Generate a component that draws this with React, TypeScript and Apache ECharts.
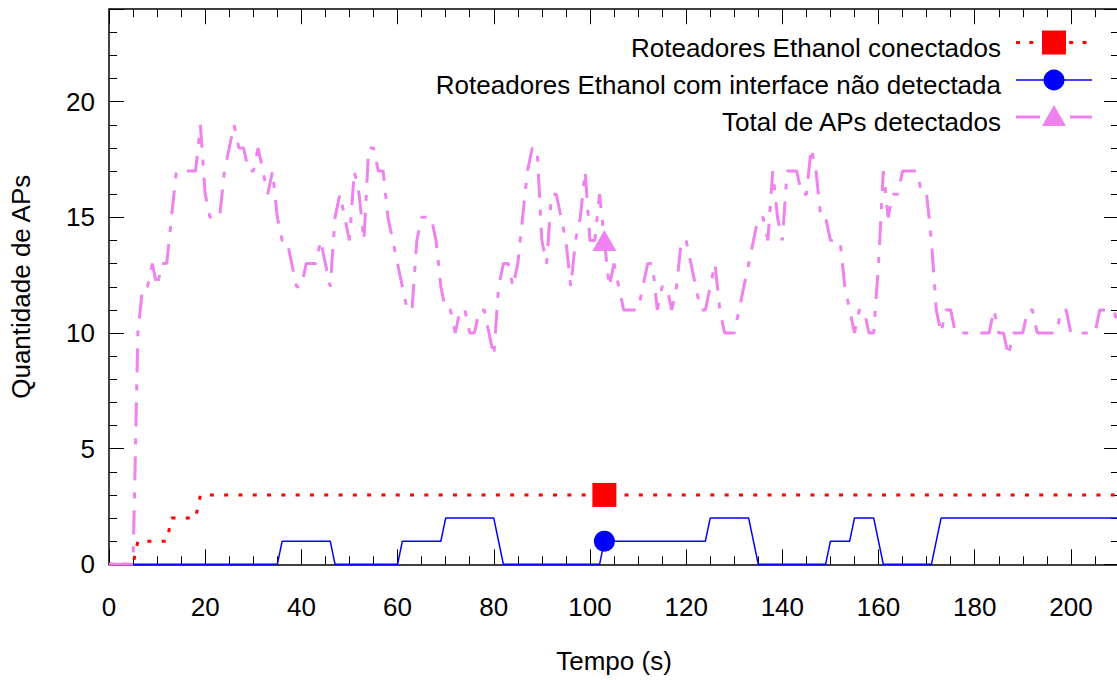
import React, { useEffect, useRef } from "react";
import * as echarts from "echarts";

// ---- axis ranges & ticks ----
const X_MIN = 0;
const X_MAX = 210;
const X_MAJOR = 20;
const X_MINOR = 5;
const Y_MIN = 0;
const Y_MAX = 24;
const Y_MAJOR = 5;
const Y_MINOR = 1;

const X_NAME = "Tempo (s)";
const Y_NAME = "Quantidade de APs";

const SERIES_NAMES = [
  "Roteadores Ethanol conectados",
  "Roteadores Ethanol com interface não detectada",
  "Total de APs detectados",
];
const SERIES_COLORS = ["#ff0000", "#0000ff", "#ee82ee"];

// time (s) at which gnuplot drew the single point marker of each series
const MARK_TIME = 103;

// ---- data ----
const connectedTime = [0, 5, 6, 12, 13, 18, 19, 103, 210];
const connectedValue = [0, 0, 1, 1, 2, 2, 3, 3, 3];

const undetectedTime = [
  0, 35, 36, 46, 47, 60, 61, 69, 70, 80, 82, 102, 103, 124, 125, 133, 135,
  149, 150, 154, 155, 159, 161, 171, 173, 210,
];
const undetectedValue = [
  0, 0, 1, 1, 0, 0, 1, 1, 2, 2, 0, 0, 1, 1, 2, 2, 0, 0, 1, 1, 2, 2, 0, 0, 2,
  2,
];

// one value per second, t = 0 .. 210
const totalValue = [
  0, 0, 0, 0, 0, 0, 10, 12, 12, 13,
  12, 13, 13, 15, 17, 17, 17, 17, 17, 19,
  16, 15, 15, 15, 17, 18, 19, 18, 18, 17,
  17, 18, 17, 16, 17, 15, 14, 14, 13, 12,
  12, 13, 13, 13, 14, 13, 12, 15, 16, 15,
  14, 17, 16, 14, 18, 18, 17, 17, 15, 14,
  13, 12, 11, 11, 14, 15, 15, 15, 14, 12,
  11, 11, 10, 11, 11, 10, 10, 11, 11, 10,
  9, 12, 13, 13, 12, 13, 15, 17, 18, 18,
  14, 13, 16, 16, 15, 14, 12, 14, 15, 17,
  14, 14, 16, 14, 12, 13, 12, 11, 11, 11,
  11, 12, 13, 13, 11, 12, 12, 11, 12, 14,
  14, 13, 12, 11, 11, 12, 13, 11, 10, 10,
  10, 11, 12, 13, 14, 15, 15, 14, 17, 15,
  14, 17, 17, 17, 16, 16, 18, 17, 15, 15,
  14, 14, 14, 12, 11, 10, 11, 11, 10, 10,
  13, 17, 15, 16, 16, 17, 17, 17, 17, 16,
  16, 14, 11, 10, 11, 11, 10, 10, 10, 10,
  10, 10, 10, 10, 11, 10, 10, 9, 10, 10,
  10, 11, 11, 10, 10, 10, 10, 10, 11, 11,
  10, 10, 10, 10, 10, 10, 11, 11, 11, 11,
  10,
];
const totalTime = totalValue.map((_, i) => i);

const FONT = '"Liberation Sans", Arial, Helvetica, sans-serif';
const FS = 26;

function buildData(
  times: number[],
  values: number[],
  symbol: string,
  size: number | number[]
) {
  return times.map((t, i) =>
    t === MARK_TIME
      ? { value: [t, values[i]], symbol, symbolSize: size }
      : [t, values[i]]
  );
}

function xAxisDef(position: string, interval: number, tickLen: number, main: boolean) {
  return {
    type: "value",
    position,
    min: X_MIN,
    max: X_MAX,
    interval,
    splitLine: { show: false },
    axisLine: { show: main, onZero: false, lineStyle: { color: "#000", width: 1.5 } },
    axisTick: { show: true, inside: true, length: tickLen, lineStyle: { color: "#000", width: 1 } },
    axisLabel: {
      show: main && position === "bottom",
      margin: 30,
      fontFamily: FONT,
      fontSize: FS,
      color: "#000",
      formatter: (v: number) => (v % X_MAJOR === 0 ? String(v) : ""),
    },
    name: main && position === "bottom" ? X_NAME : "",
    nameLocation: "middle",
    nameGap: 84,
    nameTextStyle: { fontFamily: FONT, fontSize: FS, color: "#000" },
  };
}

function yAxisDef(position: string, interval: number, tickLen: number, main: boolean) {
  return {
    type: "value",
    position,
    min: Y_MIN,
    max: Y_MAX,
    interval,
    splitLine: { show: false },
    axisLine: { show: main, onZero: false, lineStyle: { color: "#000", width: 1.5 } },
    axisTick: { show: true, inside: true, length: tickLen, lineStyle: { color: "#000", width: 1 } },
    axisLabel: {
      show: main && position === "left",
      margin: 14,
      fontFamily: FONT,
      fontSize: FS,
      color: "#000",
      formatter: (v: number) => (v % Y_MAJOR === 0 ? String(v) : ""),
    },
    name: main && position === "left" ? Y_NAME : "",
    nameLocation: "middle",
    nameRotate: 90,
    nameGap: 75,
    nameTextStyle: { fontFamily: FONT, fontSize: FS, color: "#000" },
  };
}

const LEGEND_X_TEXT = 1001;
const LEGEND_X1 = 1016;
const LEGEND_X2 = 1092;
const LEGEND_XM = 1054;
const LEGEND_ROW_Y = [42.5, 80, 117];
const LEGEND_TEXT_DY = 5;

const RED_DASH = [4, 10.3];
const VIOLET_DASH = [24, 12, 6, 12];

export default function App() {
  const ref = useRef<HTMLDivElement>(null);

  useEffect(() => {
    if (!ref.current) return;
    const chart = echarts.init(ref.current, undefined, { renderer: "svg" });

    const legendGraphics: any[] = [];
    SERIES_NAMES.forEach((name, i) => {
      const y = LEGEND_ROW_Y[i];
      legendGraphics.push({
        type: "text",
        x: LEGEND_X_TEXT,
        y: y + LEGEND_TEXT_DY,
        style: {
          text: name,
          font: `${FS}px ${FONT}`,
          fill: "#000",
          align: "right",
          verticalAlign: "middle",
          textAlign: "right",
          textVerticalAlign: "middle",
        },
      });
      legendGraphics.push({
        type: "line",
        shape: { x1: LEGEND_X1, y1: y, x2: LEGEND_X2, y2: y },
        style: {
          stroke: SERIES_COLORS[i],
          lineWidth: i === 1 ? 1.5 : 3,
          lineDash: i === 0 ? [4, 9.3] : i === 2 ? VIOLET_DASH : null,
        },
      });
    });
    legendGraphics.push({
      type: "rect",
      shape: { x: LEGEND_XM - 12, y: LEGEND_ROW_Y[0] - 12, width: 24, height: 24 },
      style: { fill: SERIES_COLORS[0] },
    });
    legendGraphics.push({
      type: "circle",
      shape: { cx: LEGEND_XM, cy: LEGEND_ROW_Y[1], r: 10.5 },
      style: { fill: SERIES_COLORS[1] },
    });
    legendGraphics.push({
      type: "polygon",
      shape: {
        points: [
          [LEGEND_XM, LEGEND_ROW_Y[2] - 12],
          [LEGEND_XM - 12, LEGEND_ROW_Y[2] + 9],
          [LEGEND_XM + 12, LEGEND_ROW_Y[2] + 9],
        ],
      },
      style: { fill: SERIES_COLORS[2] },
    });

    chart.setOption({
      animation: false,
      backgroundColor: "#fff",
      grid: { left: 107.5, top: 9.2, right: 2.8, bottom: 115.7, containLabel: false },
      xAxis: [
        xAxisDef("bottom", X_MAJOR, 15, true),
        xAxisDef("bottom", X_MINOR, 8, false),
        xAxisDef("top", X_MAJOR, 15, true),
        xAxisDef("top", X_MINOR, 8, false),
      ],
      yAxis: [
        yAxisDef("left", Y_MAJOR, 15, true),
        yAxisDef("left", Y_MINOR, 8, false),
        yAxisDef("right", Y_MAJOR, 15, true),
        yAxisDef("right", Y_MINOR, 8, false),
      ],
      series: [
        {
          name: SERIES_NAMES[0],
          type: "line",
          xAxisIndex: 0,
          yAxisIndex: 0,
          data: buildData(connectedTime, connectedValue, "rect", 24),
          symbol: "none",
          showSymbol: true,
          itemStyle: { color: SERIES_COLORS[0] },
          lineStyle: { color: SERIES_COLORS[0], width: 3, type: RED_DASH, cap: "butt" },
        },
        {
          name: SERIES_NAMES[1],
          type: "line",
          xAxisIndex: 0,
          yAxisIndex: 0,
          data: buildData(undetectedTime, undetectedValue, "circle", 21),
          symbol: "none",
          showSymbol: true,
          itemStyle: { color: SERIES_COLORS[1] },
          lineStyle: { color: SERIES_COLORS[1], width: 1.5, type: "solid" },
        },
        {
          name: SERIES_NAMES[2],
          type: "line",
          xAxisIndex: 0,
          yAxisIndex: 0,
          data: buildData(totalTime, totalValue, "triangle", [24, 21]),
          symbol: "none",
          showSymbol: true,
          itemStyle: { color: SERIES_COLORS[2] },
          lineStyle: { color: SERIES_COLORS[2], width: 3, type: VIOLET_DASH, cap: "butt" },
        },
      ],
      graphic: legendGraphics,
    });

    return () => chart.dispose();
  }, []);

  return (
    <div
      style={{
        position: "absolute",
        left: 0,
        top: 0,
        width: 1117,
        height: 680,
        overflow: "hidden",
        background: "#fff",
      }}
    >
      <div ref={ref} style={{ width: 1122, height: 680 }} />
    </div>
  );
}
